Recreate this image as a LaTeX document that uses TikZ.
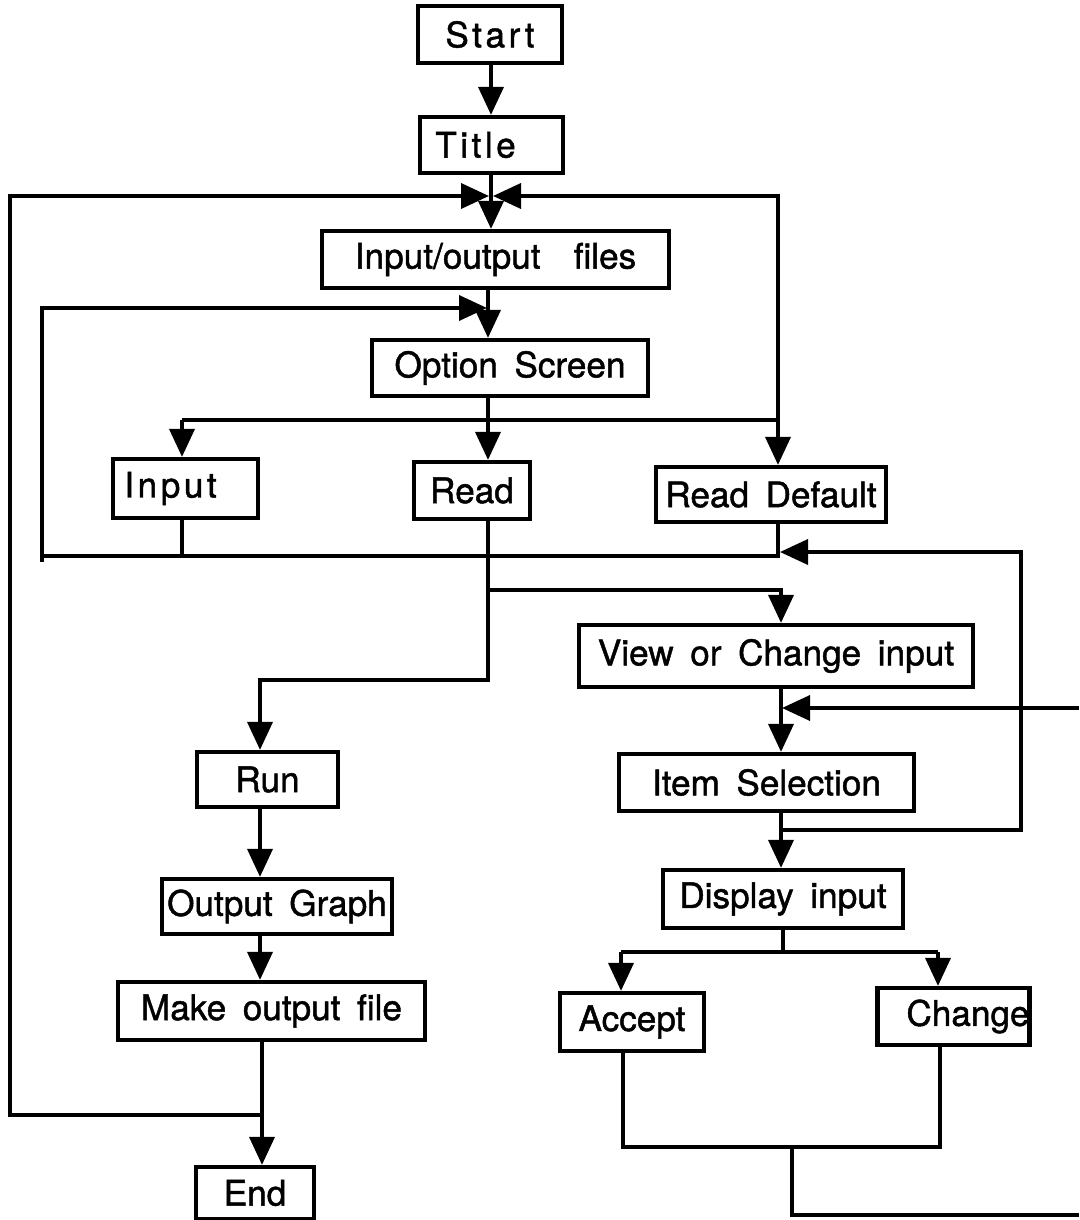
\documentclass[tikz,border=0pt]{standalone}
\usepackage{fontspec}
\setmainfont{TeX Gyre Heros}[WordSpace=1.7,FakeBold=1.3]
\usetikzlibrary{arrows.meta}
\newcommand{\spaced}[1]{{\addfontfeature{LetterSpace=10}#1}}
\begin{document}
\begin{tikzpicture}[x=0.02cm,y=-0.02cm,
  box/.style={draw,line width=2.4pt,inner sep=0pt,font=\fontsize{20}{24}\selectfont},
  ln/.style={line width=2.1pt},
  arr/.style={ln,-{Triangle[length=0.56cm,width=0.5cm]}}]
\useasboundingbox (0,0) rectangle (1079,1220);
% boxes
\node[box,minimum width=2.88cm,minimum height=1.14cm] (start) at (490,34.5) {\spaced{Start}};
\node[box,minimum width=2.86cm,minimum height=1.12cm] (title) at (491.5,145) {\spaced{Title}\hspace*{0.64cm}};
\node[box,minimum width=6.94cm,minimum height=1.14cm] (io) at (495.5,259.5) {Input/output \ files};
\node[box,minimum width=5.52cm,minimum height=1.12cm] (opt) at (510,368) {Option Screen};
\node[box,minimum width=2.90cm,minimum height=1.18cm] (input) at (185.5,488.5) {\spaced{Input}\hspace*{0.6cm}};
\node[box,minimum width=2.32cm,minimum height=1.14cm] (read) at (472,490.5) {Read};
\node[box,minimum width=4.60cm,minimum height=1.10cm] (rdef) at (771,494.5) {Read Default};
\node[box,minimum width=7.88cm,minimum height=1.24cm] (view) at (776,656) {View or Change input};
\node[box,minimum width=5.90cm,minimum height=1.14cm] (item) at (766.5,782.5) {Item Selection};
\node[box,minimum width=4.80cm,minimum height=1.16cm] (disp) at (783,899) {Display input};
\node[box,minimum width=2.88cm,minimum height=1.16cm] (accept) at (632,1022) {Accept};
\node[box,minimum width=2.94cm,minimum height=1.14cm] (change) at (953.5,1016.5) {\hspace*{0.58cm}Change};
\node[box,minimum width=2.82cm,minimum height=1.10cm] (run) at (267.5,779.5) {Run};
\node[box,minimum width=4.60cm,minimum height=1.10cm] (graph) at (277,906.5) {Output Graph};
\node[box,minimum width=6.14cm,minimum height=1.16cm] (make) at (271.5,1011) {Make output file};
\node[box,minimum width=2.36cm,minimum height=1.04cm] (end) at (255,1193) {End};
% columns
\coordinate (xA) at (491,0);
\coordinate (xB) at (488,0);
\coordinate (xI) at (182,0);
\coordinate (xD) at (778,0);
\coordinate (xV) at (781,0);
\coordinate (xDi) at (783,0);
\coordinate (xRun) at (260,0);
\coordinate (xEnd) at (262,0);
\coordinate (xAc) at (621,0);
\coordinate (xCh) at (938,0);
\coordinate (xAc2) at (623,0);
\coordinate (xCh2) at (940,0);
% junction points
\coordinate (jl) at (262,1115);
\coordinate (jr) at (781,830);
\coordinate (jo) at (488,420);
\coordinate (jrd) at (488,590);
\coordinate (jd) at (783,952);
\coordinate (ja) at (792,1147);
\coordinate (eR1) at (1079,708);
\coordinate (eR2) at (1079,1215);
% top chain
\draw[arr] (start.south -| xA) -- (title.north -| xA);
\draw[arr] (title.south -| xA) -- (io.north -| xA);
\draw[arr] (io.south -| xB) -- (opt.north -| xB);
% outer left loop
\draw[ln] (make.south -| xEnd) -- (jl);
\draw[arr] (jl) -- (10,1115) -- (10,196) -- (489,196);
% right loop to Input/output files
\draw[arr] (778,420) -- (778,196) -- (493,196);
% option screen bus
\draw[ln] (opt.south -| xB) -- (jo);
\draw[ln] (182,420) -- (778,420);
\draw[arr] (182,420) -- (input.north -| xI);
\draw[arr] (jo) -- (read.north -| xB);
\draw[arr] (778,420) -- (rdef.north -| xD);
% return loop to option screen
\draw[ln] (input.south -| xI) -- (182,556);
\draw[arr] (rdef.south -| xD) -- (778,556) -- (42,556) -- (42,308) -- (487,308);
\draw[ln] (42,556) -- (42,562);
% from item selection back
\draw[ln] (item.south -| xV) -- (jr);
\draw[arr] (jr) -- (1021,830) -- (1021,552) -- (780,552);
\draw[arr] (jr) -- (disp.north -| xV);
% read branches
\draw[ln] (read.south -| xB) -- (jrd);
\draw[arr] (jrd) -- (781,590) -- (view.north -| xV);
\draw[arr] (jrd) -- (488,680) -- (260,680) -- (run.north -| xRun);
% view to item
\draw[arr] (view.south -| xV) -- (item.north -| xV);
\draw[arr] (eR1) -- (782,708);
% display branches
\draw[ln] (disp.south -| xDi) -- (jd);
\draw[ln] (621,952) -- (938,952);
\draw[arr] (621,952) -- (accept.north -| xAc);
\draw[arr] (938,952) -- (change.north -| xCh);
\draw[ln] (accept.south -| xAc2) -- (623,1147) -- (940,1147) -- (change.south -| xCh2);
\draw[ln] (ja) -- (792,1215) -- (eR2);
% left column
\draw[arr] (run.south -| xRun) -- (graph.north -| xRun);
\draw[arr] (graph.south -| xRun) -- (make.north -| xRun);
\draw[arr] (jl) -- (end.north -| xEnd);
\end{tikzpicture}
\end{document}
